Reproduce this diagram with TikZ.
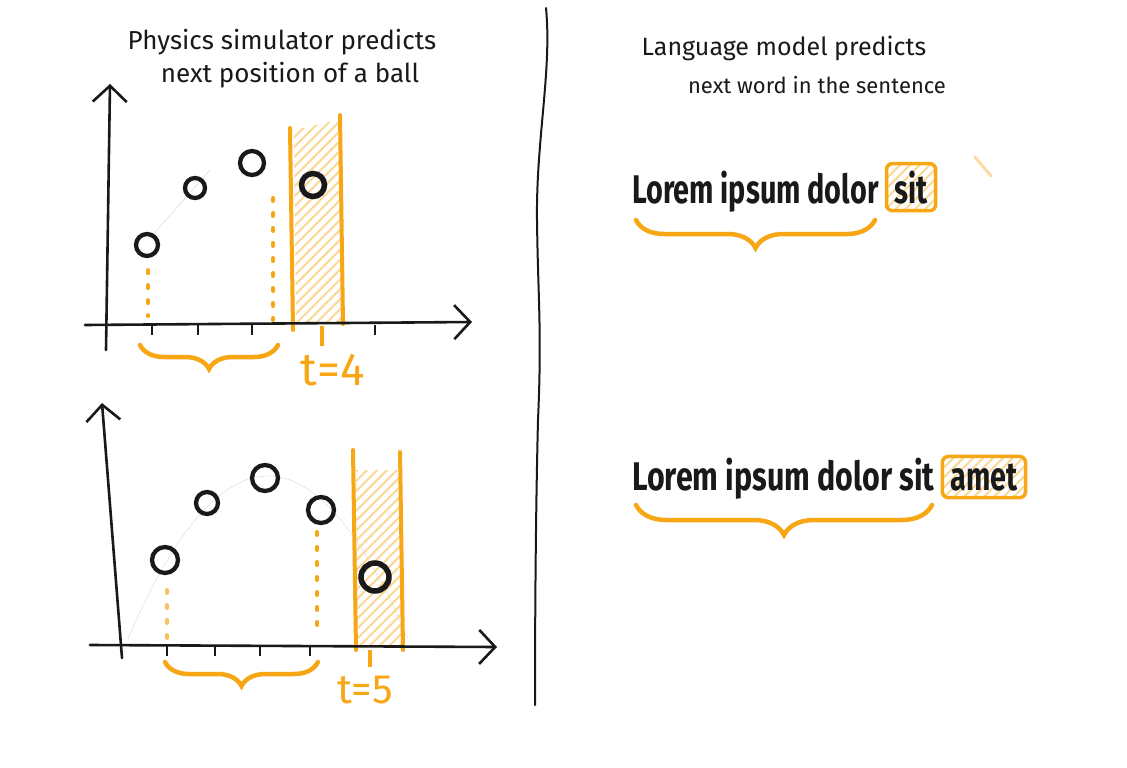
\documentclass[tikz,border=0pt]{standalone}
\usepackage{fontspec}
\setmainfont{Fira Sans}
\usetikzlibrary{arrows.meta,decorations.pathreplacing,patterns.meta,calc}
\definecolor{org}{RGB}{247,166,20}
\definecolor{ink}{RGB}{25,25,25}
\newcommand{\narrow}[1]{\scalebox{0.72}[1]{#1}}
\tikzset{
  axis/.style={draw=ink,line width=2.6pt,line cap=round,-{Straight Barb[length=16pt,width=34pt,line width=2.6pt]}},
  tickmark/.style={draw=ink,line width=2pt},
  ball/.style={circle,draw=ink,line width=4.3pt,inner sep=0pt},
  dots/.style={draw=org,line width=4pt,line cap=round,dash pattern=on 3pt off 12pt},
  bandedge/.style={draw=org,line width=4pt,line cap=round},
  hatch/.style={pattern={Lines[angle=45,distance=7pt,line width=2pt]},pattern color=org!45},
  obrace/.style={draw=org,line width=4.5pt,line cap=round,decorate,decoration={brace,mirror,amplitude=#1}},
  obrace/.default=22pt,
  title/.style={font=\fontsize{26}{28}\selectfont,text=ink},
  subtitle/.style={font=\fontsize{22}{24}\selectfont,text=ink},
  big/.style={font=\fontsize{40}{44}\selectfont\bfseries,text=ink,inner sep=0pt},
  wordbox/.style={draw=org,line width=3.5pt,rounded corners=6pt,hatch,inner xsep=8pt,inner ysep=7pt,font=\fontsize{40}{44}\selectfont\bfseries,text=ink},
  tlabel/.style={text=org,font=\fontsize{46}{48}\selectfont}
}
\begin{document}
\begin{tikzpicture}[x=1pt,y=-1pt]
\useasboundingbox (0,0) rectangle (1127,768);
\fill[white] (0,0) rectangle (1127,768);

% ===== divider =====
\draw[ink,line width=2pt,line cap=round] (546,8) .. controls (552,70) and (536,140) .. (537,220)
  .. controls (538,300) and (542,330) .. (538,420) .. controls (536,500) and (535,600) .. (535,705);

% ===== top-left panel =====
\node[title] (t1) at (282,42) {Physics simulator predicts};
\node[title] (t2) at (290,75) {next position of a ball};

\draw[gray!25,line width=0.6pt] (150,238) -- (210,170);

\fill[hatch] (294,130) -- (338,120) -- (342,322) -- (296,322) -- cycle;
\draw[bandedge] (290,128) -- (293,330);
\draw[bandedge] (340,115) -- (343,324);

\coordinate (xa0) at (85,325);
\coordinate (xa1) at (472,322);
\coordinate (ya0) at (106,350);
\coordinate (ya1) at (110,84);
\draw[axis] (xa0) -- (xa1);
\draw[axis] (ya0) -- (ya1);
\foreach \x in {152,198,252,375} \draw[tickmark] (\x,325) -- (\x,335);
\draw[draw=org,line width=4pt] (322,326) -- (322,346);

\node[ball,minimum size=22pt] (a1) at (147,245) {};
\node[ball,minimum size=20pt] (a2) at (195,188) {};
\node[ball,minimum size=24pt] (a3) at (252,163) {};
\node[ball,minimum size=23pt,line width=5.5pt] (a4) at (313,185) {};

\coordinate (d1) at (148,316);
\coordinate (d2) at (273,320);
\draw[dots] ($(a1.south)+(1,12)$) -- (d1);
\draw[dots] (273,198) -- (d2);

\coordinate (b1l) at (140,345);
\coordinate (b1r) at (278,345);
\draw[obrace=24pt] (b1l) -- (b1r);
\node[tlabel] (tf) at (333,370) {t=4};

% ===== bottom-left panel =====
\draw[gray!22,line width=0.6pt,domain=128:408,samples=60] plot (\x,{476+0.0083*(\x-268)*(\x-268)});

\fill[hatch] (356,470) -- (399,470) -- (401,645) -- (358,645) -- cycle;
\draw[bandedge] (353,450) -- (356,650);
\draw[bandedge] (400,452) -- (403,650);

\coordinate (xb0) at (90,645);
\coordinate (xb1) at (497,647);
\coordinate (yb0) at (122,658);
\coordinate (yb1) at (102,403);
\draw[axis] (xb0) -- (xb1);
\draw[axis] (yb0) -- (yb1);
\foreach \x in {167,215,260,310} \draw[tickmark] (\x,645) -- (\x,656);
\draw[draw=org,line width=4pt] (370,650) -- (370,667);

\node[ball,minimum size=26pt] (c1) at (165,560) {};
\node[ball,minimum size=22pt] (c2) at (207,503) {};
\node[ball,minimum size=26pt] (c3) at (265,478) {};
\node[ball,minimum size=26pt] (c4) at (321,510) {};
\node[ball,minimum size=28pt,line width=5.5pt] (c5) at (375,577) {};

\coordinate (e1) at (167,640);
\coordinate (e2) at (317,630);
\draw[dots,draw=org!70] (167,590) -- (e1);
\draw[dots] (317,532) -- (e2);

\coordinate (b2l) at (165,662);
\coordinate (b2r) at (318,662);
\draw[obrace=24pt] (b2l) -- (b2r);
\node[tlabel,font=\fontsize{41}{43}\selectfont] (tv) at (365,690) {t=5};

% ===== right panel =====
\node[title,font=\fontsize{25}{27}\selectfont] (r1) at (784,48) {Language model predicts};
\node[subtitle] (r2) at (817,85) {next word in the sentence};

\node[big,anchor=base west] (s1) at (632,203) {\narrow{Lorem ipsum dolor}};
\node[wordbox,anchor=base west] (w1) at ($(s1.base east)+(6,0)$) {\narrow{sit}};
\coordinate (b3l) at (636,220);
\coordinate (b3r) at (875,220);
\draw[obrace=28pt] (b3l) -- (b3r);
\draw[org!40,line width=3pt,line cap=round] (975,157) -- (991,176);

\node[big,anchor=base west] (s2) at (632,490) {\scalebox{0.76}[1]{Lorem ipsum dolor sit}};
\node[wordbox,anchor=base west] (w2) at ($(s2.base east)+(6,0)$) {\narrow{amet}};
\coordinate (b4l) at (636,505);
\coordinate (b4r) at (932,505);
\draw[obrace=30pt] (b4l) -- (b4r);
\end{tikzpicture}
\end{document}
